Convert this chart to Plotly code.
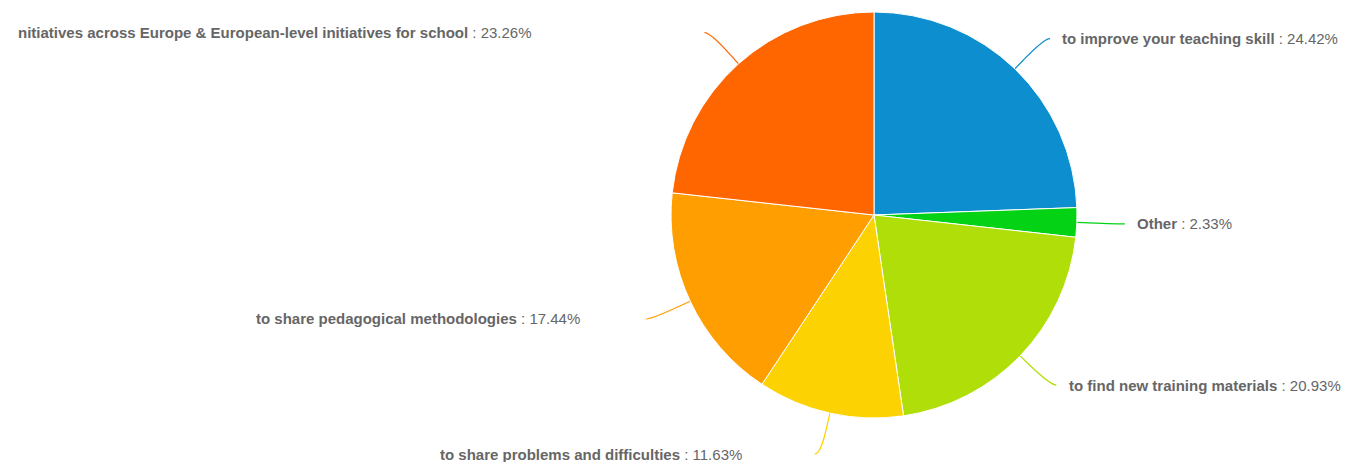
import math
import plotly.graph_objects as go

# Survey answers, clockwise from 12 o'clock
categories = [
    "to improve your teaching skill",
    "Other",
    "to find new training materials",
    "to share problems and difficulties",
    "to share pedagogical methodologies",
    "nitiatives across Europe & European-level initiatives for school",
]
percents = [24.42, 2.33, 20.93, 11.63, 17.44, 23.26]
colors = ["#0D8ECF", "#04D215", "#B0DE09", "#FCD202", "#FF9E01", "#FF6600"]

# Canvas and pie geometry (pixels)
W, H = 1347, 462
CX, CY, R = 874, 215, 203
LABEL_R = 245          # radius at which connectors end
BREAK_R = R + 12       # connector bend just outside the pie
# horizontal gap between connector end and label text, per slice
label_gap = [16, 16, 17, 77, 70, 177]

fig = go.Figure()

fig.add_trace(go.Pie(
    labels=categories,
    values=percents,
    sort=False,
    direction="clockwise",
    rotation=0,
    textinfo="none",
    hoverinfo="label+percent",
    marker=dict(colors=colors, line=dict(color="#ffffff", width=1)),
    domain=dict(x=[(CX - R) / W, (CX + R) / W],
                y=[1 - (CY + R) / H, 1 - (CY - R) / H]),
    showlegend=False,
))

# invisible pixel-space axes for connectors
fig.add_trace(go.Scatter(x=[0, W], y=[0, H], mode="markers",
                         marker=dict(opacity=0), hoverinfo="skip",
                         showlegend=False))

total = sum(percents)
cum = 0.0
shapes, annotations = [], []
for name, val, col, gap in zip(categories, percents, colors, label_gap):
    mid = (cum + val / 2) / total * 2 * math.pi
    cum += val
    sx, sy = math.sin(mid), -math.cos(mid)
    ex, ey = CX + R * sx, CY + R * sy
    bx, by = CX + BREAK_R * sx, CY + BREAK_R * sy
    lx, ly = CX + LABEL_R * sx, CY + LABEL_R * sy
    right = sx >= 0
    tip = lx + (6 if right else -6)
    c2x, c2y = 2 * bx - ex, 2 * by - ey
    path = (f"M {tip:.2f},{ly:.2f} C {lx:.2f},{ly:.2f} {c2x:.2f},{c2y:.2f} "
            f"{bx:.2f},{by:.2f} L {ex:.2f},{ey:.2f}")
    shapes.append(dict(type="path", path=path, xref="x", yref="y",
                       line=dict(color=col, width=1.2), layer="below"))
    annotations.append(dict(
        x=lx + gap if right else lx - gap, y=ly, xref="x", yref="y",
        text=f"<b>{name}</b> : {val:.2f}%",
        showarrow=False,
        xanchor="left" if right else "right", yanchor="middle",
        font=dict(family="Liberation Sans, Arial, sans-serif", size=15,
                  color="#666666"),
    ))

fig.update_layout(
    width=W, height=H,
    margin=dict(l=0, r=0, t=0, b=0),
    paper_bgcolor="#ffffff", plot_bgcolor="rgba(0,0,0,0)",
    xaxis=dict(range=[0, W], visible=False, fixedrange=True),
    yaxis=dict(range=[H, 0], visible=False, fixedrange=True),
    shapes=shapes,
    annotations=annotations,
)

fig.write_html("out.html")
